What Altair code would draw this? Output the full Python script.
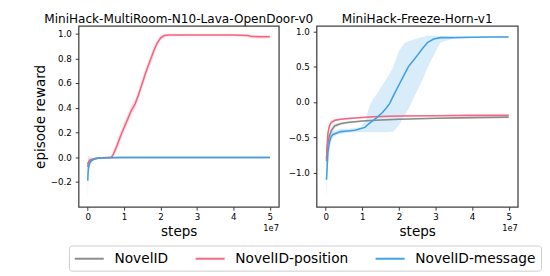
import altair as alt
import pandas as pd

METHODS = ["NovelID", "NovelID-position", "NovelID-message"]
COLORS = ["#8a8a8a", "#f5657e", "#3d9fe8"]
TITLES = ["MiniHack-MultiRoom-N10-Lava-OpenDoor-v0", "MiniHack-Freeze-Horn-v1"]
X_TICKS = [0, 1, 2, 3, 4, 5]
L_Y_TICKS = [-0.2, 0.0, 0.2, 0.4, 0.6, 0.8, 1.0]
R_Y_TICKS = [-1.0, -0.5, 0.0, 0.5, 1.0]
OFFSET_TEXT = ["1e7"]

# ---- left panel (steps in units of 1e7) ----
L_gray_x = [0, 0.02, 0.05, 0.1, 0.2, 0.3, 0.5, 1, 2, 3, 4, 5]
L_gray_y = [-0.06, -0.04, -0.03, -0.02, -0.012, -0.007, -0.004, -0.003, -0.002, -0.002, -0.002, -0.002]
L_gray_lo = [-0.15, -0.09, -0.06, -0.035, -0.02, -0.012, -0.008, -0.006, -0.005, -0.005, -0.005, -0.005]
L_gray_hi = [0.04, 0.01, 0.0, -0.005, -0.004, -0.002, 0.0, 0.0, 0.001, 0.001, 0.001, 0.001]

L_pink_x = [0, 0.02, 0.05, 0.1, 0.2, 0.3, 0.5, 0.65, 0.7, 0.8, 0.9, 1.0, 1.1, 1.2, 1.3, 1.4, 1.5,
            1.6, 1.7, 1.8, 1.9, 2.0, 2.1, 2.2, 2.5, 3.0, 3.5, 4.0, 4.2, 4.4, 4.5, 4.7, 5.0]
L_pink_y = [-0.08, -0.05, -0.03, -0.02, -0.01, -0.006, -0.003, 0.0, 0.02, 0.09, 0.17, 0.24, 0.31,
            0.38, 0.43, 0.51, 0.6, 0.69, 0.77, 0.85, 0.92, 0.965, 0.985, 0.99, 0.99, 0.99, 0.99,
            0.99, 0.988, 0.985, 0.978, 0.976, 0.975]
L_pink_lo = [-0.12, -0.08, -0.05, -0.03, -0.015, -0.01, -0.006, -0.01, -0.01, 0.05, 0.13, 0.2,
             0.27, 0.34, 0.39, 0.47, 0.56, 0.65, 0.73, 0.81, 0.89, 0.945, 0.97, 0.978, 0.98, 0.98,
             0.98, 0.98, 0.976, 0.972, 0.962, 0.96, 0.96]
L_pink_hi = [-0.04, -0.02, -0.01, -0.01, -0.005, -0.002, 0.0, 0.015, 0.05, 0.13, 0.21, 0.28, 0.35,
             0.42, 0.47, 0.55, 0.64, 0.73, 0.81, 0.89, 0.95, 0.985, 0.995, 1.0, 1.0, 1.0, 1.0,
             1.0, 0.998, 0.996, 0.992, 0.99, 0.99]

L_blue_x = [0, 0.01, 0.02, 0.05, 0.1, 0.15, 0.2, 0.3, 0.5, 0.8, 1, 2, 3, 4, 5]
L_blue_y = [-0.19, -0.13, -0.09, -0.05, -0.03, -0.02, -0.013, -0.008, -0.004, -0.003, -0.002,
            -0.002, -0.002, -0.002, -0.002]
L_blue_lo = [-0.34, -0.25, -0.17, -0.09, -0.05, -0.03, -0.02, -0.012, -0.007, -0.005, -0.004,
             -0.004, -0.004, -0.004, -0.004]
L_blue_hi = [-0.05, -0.03, -0.02, -0.015, -0.012, -0.01, -0.007, -0.004, -0.002, -0.001, 0, 0, 0, 0, 0]

# ---- right panel ----
R_gray_x = [0.02, 0.05, 0.1, 0.15, 0.24, 0.4, 0.59, 1.0, 1.5, 2.0, 3.0, 4.0, 5.0]
R_gray_y = [-0.8, -0.6, -0.48, -0.41, -0.34, -0.31, -0.29, -0.27, -0.255, -0.245, -0.232, -0.222, -0.215]
R_gray_lo = [-0.95, -0.7, -0.55, -0.46, -0.37, -0.33, -0.305, -0.282, -0.265, -0.255, -0.24, -0.23, -0.222]
R_gray_hi = [-0.65, -0.5, -0.41, -0.36, -0.31, -0.29, -0.275, -0.258, -0.245, -0.235, -0.224, -0.214, -0.208]

R_pink_x = [0.02, 0.04, 0.06, 0.1, 0.15, 0.25, 0.41, 0.7, 1.29, 2.0, 3.0, 4.0, 5.0]
R_pink_y = [-0.84, -0.6, -0.44, -0.34, -0.29, -0.26, -0.245, -0.23, -0.21, -0.2, -0.195, -0.19, -0.187]
R_pink_lo = [-0.98, -0.72, -0.52, -0.39, -0.32, -0.28, -0.26, -0.24, -0.22, -0.208, -0.202, -0.197, -0.194]
R_pink_hi = [-0.7, -0.5, -0.37, -0.3, -0.26, -0.24, -0.23, -0.22, -0.2, -0.192, -0.188, -0.183, -0.18]

R_blue_x = [0.02, 0.04, 0.06, 0.1, 0.15, 0.2, 0.3, 0.41, 0.6, 0.8, 0.94, 1.07, 1.2, 1.3, 1.42, 1.55,
            1.65, 1.75, 1.85, 2.0, 2.15, 2.26, 2.4, 2.52, 2.65, 2.79, 2.95, 3.14, 3.5, 4.0, 4.5, 5.0]
R_blue_y = [-1.1, -0.9, -0.71, -0.57, -0.49, -0.46, -0.44, -0.42, -0.41, -0.4, -0.38, -0.36, -0.3,
            -0.26, -0.21, -0.15, -0.09, -0.02, 0.09, 0.24, 0.39, 0.5, 0.59, 0.67, 0.76, 0.845,
            0.89, 0.91, 0.91, 0.915, 0.918, 0.92]
R_blue_lo = [-1.38, -1.1, -0.9, -0.68, -0.56, -0.5, -0.47, -0.45, -0.44, -0.43, -0.43, -0.43, -0.43,
             -0.43, -0.43, -0.43, -0.43, -0.42, -0.42, -0.33, -0.2, -0.1, 0.05, 0.18, 0.32, 0.49,
             0.66, 0.84, 0.9, 0.905, 0.91, 0.912]
R_blue_hi = [-0.8, -0.7, -0.55, -0.47, -0.43, -0.41, -0.4, -0.38, -0.38, -0.37, -0.36, -0.28, -0.05,
             0.05, 0.13, 0.24, 0.32, 0.4, 0.5, 0.72, 0.83, 0.86, 0.88, 0.9, 0.92, 0.94, 0.94, 0.93,
             0.92, 0.925, 0.927, 0.93]


def frame(series):
    rows = []
    for name, xs, ys, los, his in series:
        for a, b, c, d in zip(xs, ys, los, his):
            rows.append({"x": a, "y": b, "lo": c, "hi": d, "method": name})
    return pd.DataFrame(rows)


left_df = frame([
    ("NovelID", L_gray_x, L_gray_y, L_gray_lo, L_gray_hi),
    ("NovelID-position", L_pink_x, L_pink_y, L_pink_lo, L_pink_hi),
    ("NovelID-message", L_blue_x, L_blue_y, L_blue_lo, L_blue_hi),
])
right_df = frame([
    ("NovelID", R_gray_x, R_gray_y, R_gray_lo, R_gray_hi),
    ("NovelID-position", R_pink_x, R_pink_y, R_pink_lo, R_pink_hi),
    ("NovelID-message", R_blue_x, R_blue_y, R_blue_lo, R_blue_hi),
])

FONT = "DejaVu Sans"
H = 187

# wide, flat legend line: a 15px symbol box whose stroke extends 15px to the right
legend = alt.Legend(
    orient="none", legendX=-10, legendY=227, direction="horizontal", columns=3,
    title=None, symbolType="M-1,0H3", symbolSize=225, symbolStrokeWidth=2,
    symbolFillColor="transparent",
    labelFontSize=14.2, labelFont=FONT, labelColor="#000", labelOffset=25,
    columnPadding=24, padding=5, strokeColor="#cccccc", cornerRadius=3,
    fillColor="white", labelLimit=300,
)


def panel(df, title, ydom, yticks, ytitle, width, show_legend):
    base = alt.Chart(df)
    xenc = alt.X("x:Q", scale=alt.Scale(domain=[-0.25, 5.25], nice=False, zero=False),
                 axis=alt.Axis(values=X_TICKS, format="d", title="steps"))
    yscale = alt.Scale(domain=ydom, nice=False, zero=False)
    yaxis = alt.Axis(values=yticks, format=".1f", title=ytitle)
    layers = []
    for m, c in zip(METHODS, COLORS):
        layers.append(
            base.transform_filter(alt.datum.method == m)
            .mark_area(color=c, opacity=0.2, clip=True)
            .encode(x=xenc, y=alt.Y("lo:Q", scale=yscale, axis=yaxis), y2="hi:Q")
        )
    for m in METHODS:
        layers.append(
            base.transform_filter(alt.datum.method == m)
            .mark_line(strokeWidth=1.6, clip=True)
            .encode(
                x=xenc,
                y=alt.Y("y:Q", scale=yscale, axis=yaxis),
                color=alt.Color("method:N", scale=alt.Scale(domain=METHODS, range=COLORS),
                                legend=legend if show_legend else None),
            )
        )
    txt = alt.Chart(pd.DataFrame({"t": OFFSET_TEXT})).mark_text(
        align="right", baseline="alphabetic", fontSize=8.5, font=FONT, color="#000"
    ).encode(x=alt.value(width), y=alt.value(H + 25), text="t:N")
    ttl = alt.Chart(pd.DataFrame({"t": [title]})).mark_text(
        align="center", baseline="alphabetic", fontSize=12.5, font=FONT, color="#000"
    ).encode(x=alt.value(width / 2), y=alt.value(-3), text="t:N")
    layers.append(txt)
    layers.append(ttl)
    return alt.layer(*layers).properties(width=width, height=H)


left = panel(left_df, TITLES[0], [-0.402, 1.063], L_Y_TICKS, "episode reward", 207, True)
right = panel(right_df, TITLES[1], [-1.484, 1.076], R_Y_TICKS, None, 208, False)

chart = alt.hconcat(left, right, spacing=39, bounds="flush").resolve_scale(
    x="independent", y="independent", color="shared"
).properties(
    padding={"left": 25, "top": 0, "right": 0, "bottom": 0}
).configure_view(
    stroke="#404040", strokeWidth=1.3
).configure_axis(
    domain=False, grid=False, ticks=True, tickSize=3.5, tickColor="#333", tickWidth=1,
    labelFontSize=9, labelFont=FONT, labelColor="#000", labelPadding=3,
    titleFont=FONT, titleFontSize=14, titleFontWeight="normal", titleColor="#000",
    titlePadding=3,
).configure_axisY(labelPadding=4)

chart.save("out.html", embed_options={"renderer": "svg", "actions": False})
